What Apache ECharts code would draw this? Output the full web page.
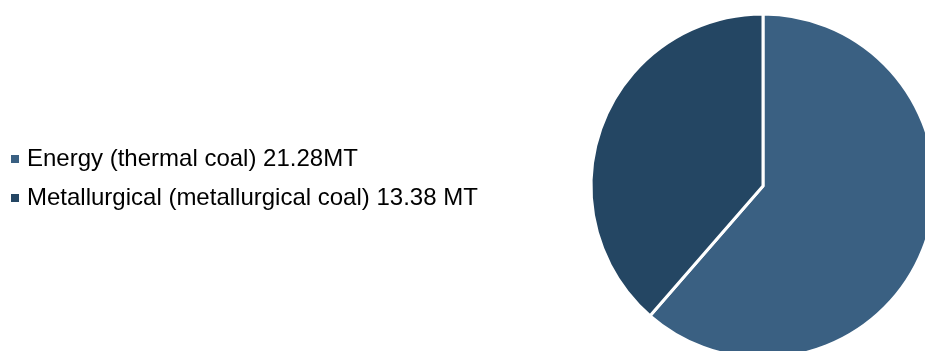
<!DOCTYPE html>
<html>
<head>
<meta charset="utf-8">
<script src="https://cdn.jsdelivr.net/npm/echarts@6/dist/echarts.min.js"></script>
<style>
  html, body { margin: 0; padding: 0; background: #ffffff; }
  #chart { width: 925px; height: 351px; }
</style>
</head>
<body>
<div id="chart"></div>
<script>
// Coal production by type (million tonnes)
const categories = [
  'Energy (thermal coal) 21.28MT',
  'Metallurgical (metallurgical coal) 13.38 MT'
];
const values = [21.28, 13.38];
const colors = ['#3a6082', '#244663'];

const chart = echarts.init(document.getElementById('chart'), null, { renderer: 'canvas' });

chart.setOption({
  animation: false,
  color: colors,
  legend: {
    orient: 'vertical',
    left: 11,
    top: 147,
    padding: 0,
    itemWidth: 8,
    itemHeight: 8,
    itemGap: 15,
    icon: 'rect',
    itemStyle: { borderWidth: 0 },
    textStyle: {
      fontFamily: '"Liberation Sans", Arial, sans-serif',
      fontSize: 24,
      color: '#000000',
      padding: [0, 0, 0, 3]
    },
    data: categories
  },
  series: [{
    type: 'pie',
    center: [763, 186],
    radius: 172,
    startAngle: 90,
    clockwise: true,
    label: { show: false },
    labelLine: { show: false },
    emphasis: { disabled: true },
    itemStyle: { borderColor: '#ffffff', borderWidth: 3 },
    data: categories.map((name, i) => ({ name, value: values[i] }))
  }]
});
</script>
</body>
</html>
